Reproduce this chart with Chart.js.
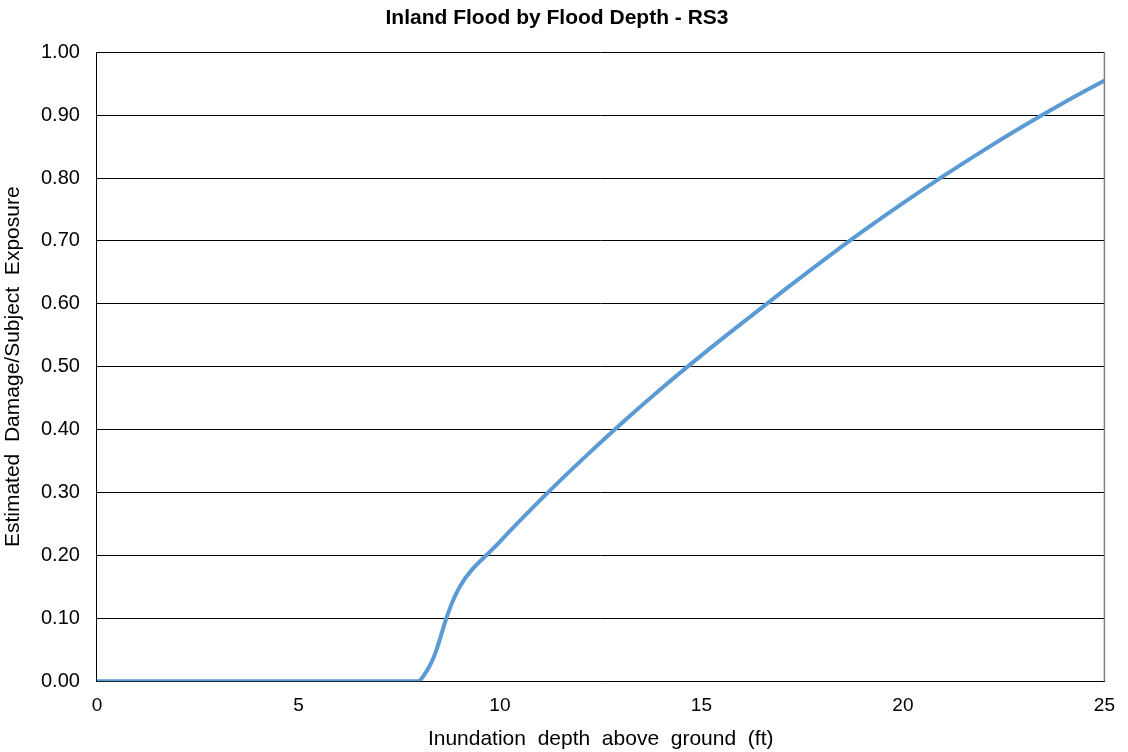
<!DOCTYPE html>
<html>
<head>
<meta charset="utf-8">
<script src="https://cdn.jsdelivr.net/npm/chart.js@4.4.0/dist/chart.umd.min.js"></script>
<style>
  html, body { margin: 0; padding: 0; background: #fff; }
  #wrap { width: 1128px; height: 752px; }
</style>
</head>
<body>
<div id="wrap"><canvas id="flood-chart" width="1128" height="752"></canvas></div>
<script>
// 曲线数据 - 淹没深度 (ft) 与损失比
const depthFt = [0, 1, 2, 3, 4, 5, 6, 7, 8, 9, 10, 11, 12, 13, 14, 15, 16, 17, 18, 19, 20, 21, 22, 23, 24, 25];
const damageRatio = [0, 0, 0, 0, 0, 0, 0, 0, 0, 0.15, 0.222, 0.288, 0.35, 0.409, 0.465, 0.518, 0.569, 0.619, 0.668, 0.715, 0.76, 0.803, 0.844, 0.883, 0.92, 0.955];
const xTicks = [0, 5, 10, 15, 20, 25];
const yTicks = [0, 0.1, 0.2, 0.3, 0.4, 0.5, 0.6, 0.7, 0.8, 0.9, 1.0];

const FONT = '"Liberation Sans", Arial, sans-serif';

// 绘图区边框（右侧灰色）
const frame = {
  id: 'frame',
  afterDraw(chart) {
    const { ctx, chartArea: a } = chart;
    ctx.save();
    ctx.strokeStyle = '#808080';
    ctx.lineWidth = 1.5;
    ctx.beginPath();
    ctx.moveTo(a.right, a.top);
    ctx.lineTo(a.right, a.bottom);
    ctx.stroke();
    ctx.restore();
  }
};

new Chart(document.getElementById('flood-chart'), {
  type: 'line',
  data: {
    datasets: [{
      label: 'RS3',
      data: depthFt.map((x, i) => ({ x: x, y: damageRatio[i] })),
      borderColor: '#5B9BD5',
      borderWidth: 4,
      pointRadius: 0,
      tension: 0.4,
      fill: false
    }]
  },
  options: {
    responsive: false,
    animation: false,
    layout: { padding: { top: 2, right: 17, left: 3, bottom: 3 } },
    plugins: {
      legend: { display: false },
      tooltip: { enabled: false },
      title: {
        display: true,
        text: 'Inland Flood by Flood Depth - RS3',
        color: '#000',
        font: { family: FONT, size: 21, weight: 'bold' },
        padding: { top: 4, bottom: 21 }
      }
    },
    scales: {
      x: {
        type: 'linear',
        min: 0,
        max: 25,
        afterBuildTicks(axis) { axis.ticks = xTicks.map(v => ({ value: v })); },
        grid: { display: false, drawTicks: false },
        border: { display: true, color: '#000', width: 1 },
        ticks: { color: '#000', font: { family: FONT, size: 19 }, padding: 13 },
        title: {
          display: true,
          text: 'Inundation  depth  above  ground  (ft)',
          color: '#000',
          font: { family: FONT, size: 21, lineHeight: 0.9 },
          padding: { top: 0, bottom: 0 }
        }
      },
      y: {
        min: 0,
        max: 1,
        afterBuildTicks(axis) { axis.ticks = yTicks.map(v => ({ value: v })); },
        grid: { color: '#000', lineWidth: 1, drawTicks: false },
        border: { display: true, color: '#000', width: 1 },
        ticks: {
          color: '#000',
          font: { family: FONT, size: 20 },
          padding: 17,
          callback: v => v.toFixed(2)
        },
        title: {
          display: true,
          text: 'Estimated  Damage/Subject  Exposure',
          color: '#000',
          font: { family: FONT, size: 21, lineHeight: 1.0 },
          padding: { top: 0, bottom: 0 }
        }
      }
    }
  },
  plugins: [frame]
});
</script>
</body>
</html>
